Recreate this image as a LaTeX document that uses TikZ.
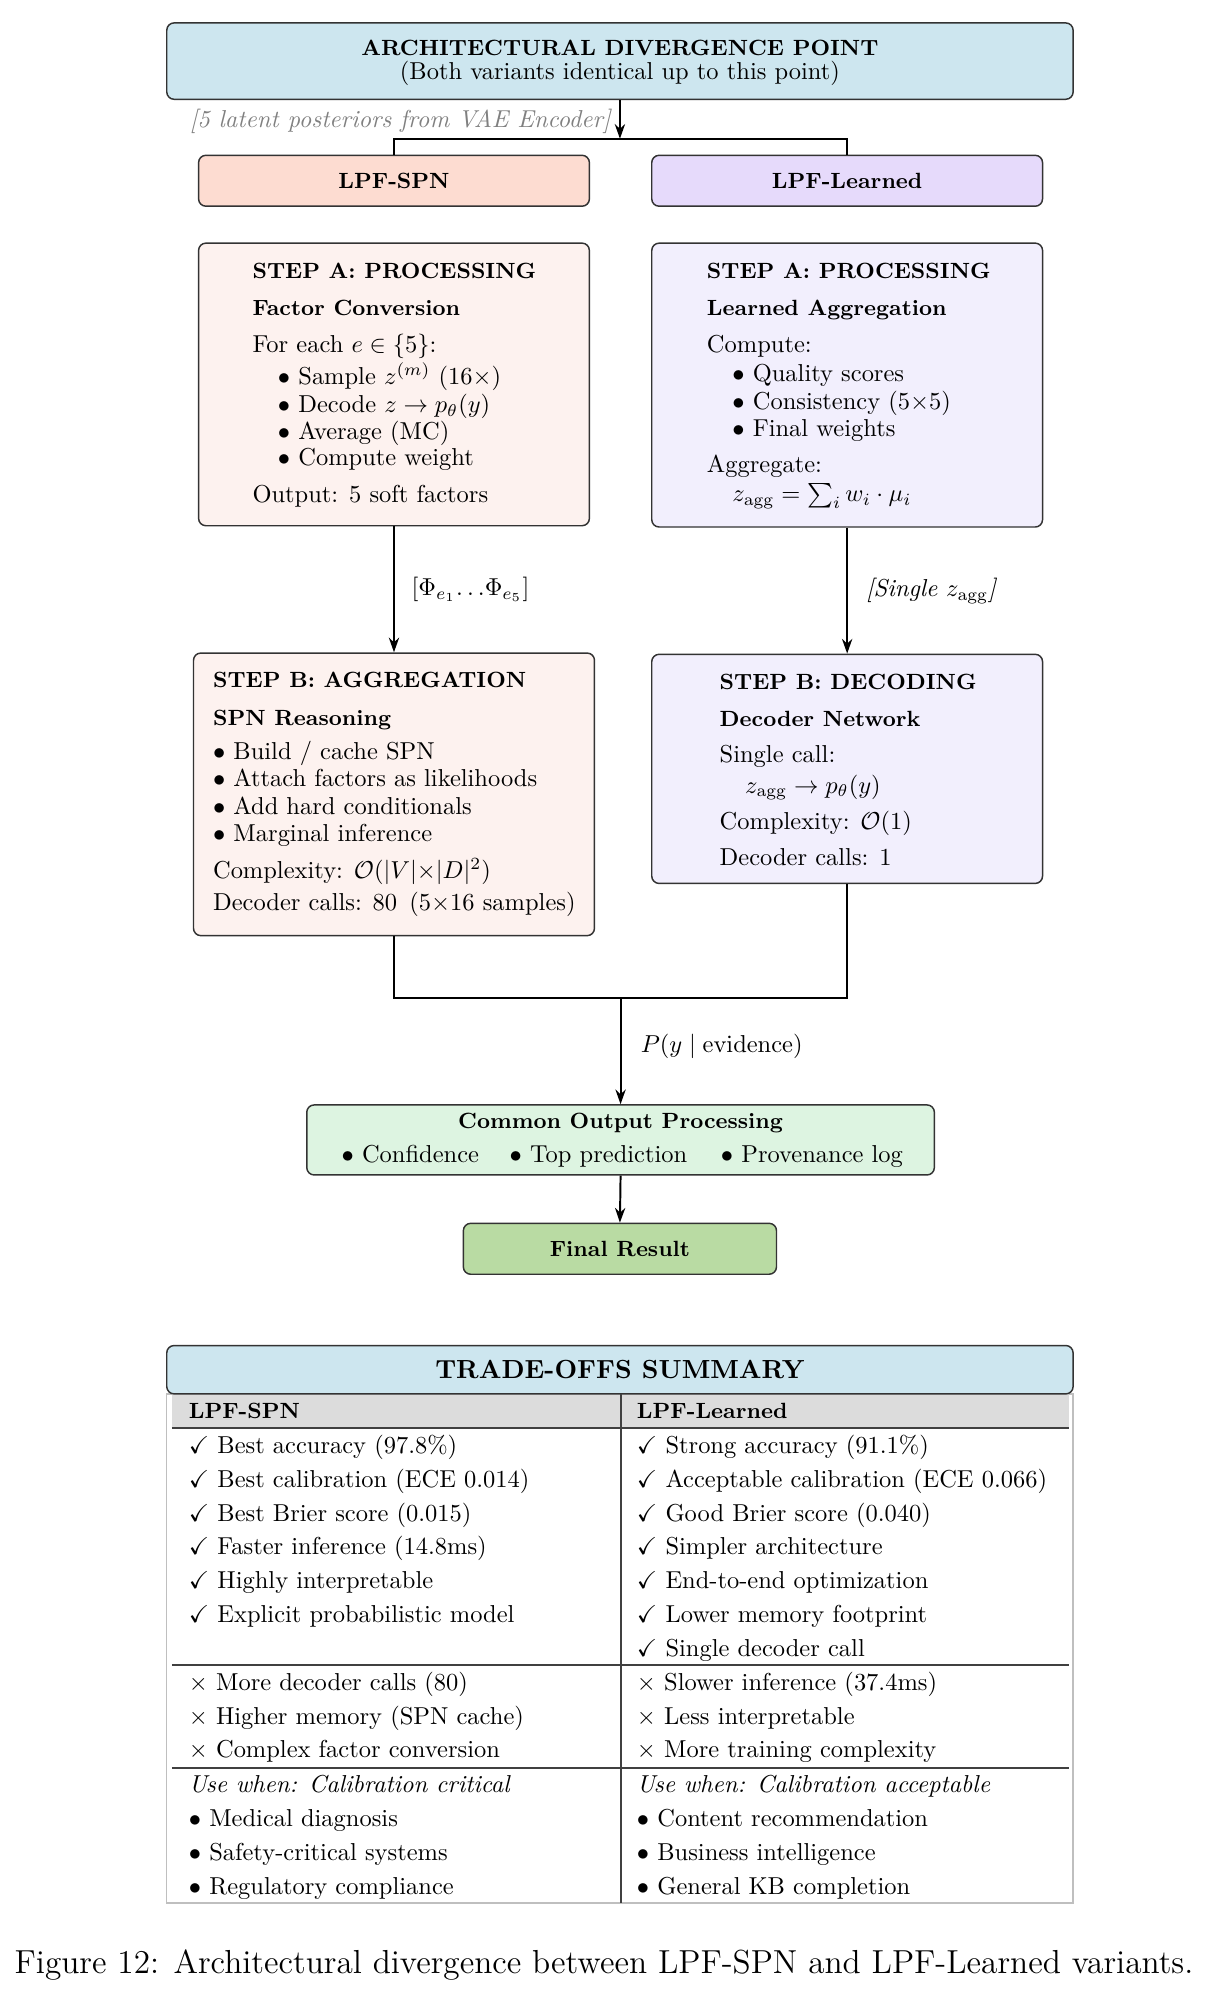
\documentclass[tikz,border=0pt]{standalone}
\usepackage{amssymb}
\usetikzlibrary{arrows.meta}
\definecolor{topblue}{HTML}{CDE6EF}
\definecolor{spnfill}{HTML}{FDDCD1}
\definecolor{lrnfill}{HTML}{E6DAFB}
\definecolor{spnlight}{HTML}{FDF2EF}
\definecolor{lrnlight}{HTML}{F2EFFD}
\definecolor{comfill}{HTML}{DDF4E1}
\definecolor{finfill}{HTML}{B9DBA3}
\definecolor{hdgray}{HTML}{DCDCDC}
\newcommand*\pxu{0.52pt}
\newcommand*\yesmk{$\checkmark$\ }
\newcommand*\nomk{$\times$\ }
\begin{document}
\begin{tikzpicture}[x=0.52pt,y=-0.52pt,
  box/.style={draw=black!80, line width=0.6pt, rounded corners=3pt, inner sep=0pt},
  arr/.style={-{Stealth[length=6pt,width=4.2pt]}, line width=0.8pt},
  ln/.style={line width=0.8pt},
  hd/.style={font=\small\bfseries, inner sep=0pt, anchor=base west, yshift=-0.5pt},
  tx/.style={font=\normalsize, inner sep=0pt, anchor=base west, yshift=-0.5pt},
  rule/.style={draw=black!75, line width=0.7pt}]
\useasboundingbox (0,0) rectangle (949,1568);

% ---------- top ----------
\node[box, fill=topblue, minimum width={712*\pxu}, minimum height={60*\pxu}] (top) at (487,48) {};
\node[font=\small\bfseries, anchor=base, inner sep=0pt] (topt) at (487,43.5) {ARCHITECTURAL DIVERGENCE POINT};
\node[anchor=base, inner sep=0pt] (tops) at (487,62.5) {(Both variants identical up to this point)};
\coordinate (split) at (487,109);
\node[box, fill=spnfill, minimum width={307*\pxu}, minimum height={40*\pxu}, font=\small\bfseries] (spn) at (309.5,142) {LPF-SPN};
\node[box, fill=lrnfill, minimum width={307*\pxu}, minimum height={40*\pxu}, font=\small\bfseries] (lrn) at (665.5,142) {LPF-Learned};
\draw[arr] (top.south) -- (split);
\draw[ln] (spn.north) |- (split) -| (lrn.north);
\node[anchor=base east, inner sep=0pt, text=gray, font=\itshape] (postl) at (480,100.5) {[5 latent posteriors from VAE Encoder]};

% ---------- step A left ----------
\node[box, fill=spnlight, minimum width={307*\pxu}, minimum height={222*\pxu}] (sal) at (309.5,302) {};
\node[hd] (sal1) at (198,218) {STEP A: PROCESSING};
\node[hd] (sal2) at (198,247) {Factor Conversion};
\node[tx] (sal3) at (198,276) {For each $e \in \{5\}$:};
\node[tx] (sal4) at (218,301) {$\bullet$ Sample $z^{(m)}$ (16$\times$)};
\node[tx] (sal5) at (218,323) {$\bullet$ Decode $z \rightarrow p_\theta(y)$};
\node[tx] (sal6) at (218,344) {$\bullet$ Average (MC)};
\node[tx] (sal7) at (218,365) {$\bullet$ Compute weight};
\node[tx] (sal8) at (198,394) {Output: 5 soft factors};

% ---------- step A right ----------
\node[box, fill=lrnlight, minimum width={307*\pxu}, minimum height={223*\pxu}] (sar) at (665.5,302.5) {};
\node[hd] (sar1) at (555,218) {STEP A: PROCESSING};
\node[hd] (sar2) at (555,247) {Learned Aggregation};
\node[tx] (sar3) at (555,276) {Compute:};
\node[tx] (sar4) at (575,299) {$\bullet$ Quality scores};
\node[tx] (sar5) at (575,321) {$\bullet$ Consistency (5$\times$5)};
\node[tx] (sar6) at (575,342) {$\bullet$ Final weights};
\node[tx] (sar7) at (555,370) {Aggregate:};
\node[tx] (sar8) at (575,393) {$z_{\mathrm{agg}} = \sum_i w_i \cdot \mu_i$};

% ---------- step B left ----------
\node[box, fill=spnlight, minimum width={315*\pxu}, minimum height={222*\pxu}] (sbl) at (309.5,624) {};
\node[hd] (sbl1) at (167,539) {STEP B: AGGREGATION};
\node[hd] (sbl2) at (167,569) {SPN Reasoning};
\node[tx] (sbl3) at (167,596) {$\bullet$ Build / cache SPN};
\node[tx] (sbl4) at (167,617) {$\bullet$ Attach factors as likelihoods};
\node[tx] (sbl5) at (167,639) {$\bullet$ Add hard conditionals};
\node[tx] (sbl6) at (167,660) {$\bullet$ Marginal inference};
\node[tx] (sbl7) at (167,689) {Complexity: $\mathcal{O}(|V|{\times}|D|^2)$};
\node[tx] (sbl8) at (167,714) {Decoder calls: 80\enspace(5$\times$16 samples)};

% ---------- step B right ----------
\node[box, fill=lrnlight, minimum width={307*\pxu}, minimum height={180*\pxu}] (sbr) at (665.5,604) {};
\node[hd] (sbr1) at (565,541) {STEP B: DECODING};
\node[hd] (sbr2) at (565,570) {Decoder Network};
\node[tx] (sbr3) at (565,598) {Single call:};
\node[tx] (sbr4) at (585,622) {$z_{\mathrm{agg}} \rightarrow p_\theta(y)$};
\node[tx] (sbr5) at (565,651) {Complexity: $\mathcal{O}(1)$};
\node[tx] (sbr6) at (565,679) {Decoder calls: 1};

% arrows between steps
\draw[arr] (sal.south) -- (sbl.north);
\draw[arr] (sar.south) -- (sbr.north);
\node[tx] (lphi) at (323,467) {[$\Phi_{e_1}{\ldots}\Phi_{e_5}$]};
\node[tx, font=\itshape] (lsgl) at (680,468) {[Single $z_{\mathrm{agg}}$]};

% ---------- merge ----------
\coordinate (join) at (487.5,784);
\node[box, fill=comfill, minimum width={493*\pxu}, minimum height={55*\pxu}] (com) at (487.5,895.5) {};
\draw[ln] (sbl.south) |- (join) -| (sbr.south);
\draw[arr] (join) -- (com.north);
\node[tx] (lpy) at (503,826) {$P(y \mid \mathrm{evidence})$};
\node[font=\small\bfseries, anchor=base, inner sep=0pt] (com1) at (487.5,886.5) {Common Output Processing};
\node[tx] (com2) at (268,912) {$\bullet$ Confidence};
\node[tx] (com3) at (400,912) {$\bullet$ Top prediction};
\node[tx] (com4) at (566,912) {$\bullet$ Provenance log};
\node[box, fill=finfill, minimum width={246*\pxu}, minimum height={40*\pxu}, font=\small\bfseries] (fin) at (487,981) {Final Result};
\draw[arr] (com.south) -- (fin.north);

% ---------- trade-offs table ----------
\draw[black!25, line width=0.6pt] (131,1095) rectangle (843,1495);
\fill[hdgray] (135,1095) rectangle (840,1122);
\node[box, fill=topblue, minimum width={712*\pxu}, minimum height={38*\pxu}, font=\fontsize{10.7}{13}\selectfont\bfseries] (trade) at (487,1076) {TRADE-OFFS SUMMARY};
\draw[rule] (135,1122) -- (840,1122);
\draw[rule] (135,1308) -- (840,1308);
\draw[rule] (135,1389) -- (840,1389);
\draw[rule] (488,1095) -- (488,1495);
\node[hd] (hl) at (148,1113) {LPF-SPN};
\node[hd] (hr) at (500,1113) {LPF-Learned};

\foreach \t [count=\i from 0] in {{Best accuracy (97.8\%)},{Best calibration (ECE 0.014)},{Best Brier score (0.015)},{Faster inference (14.8ms)},{Highly interpretable},{Explicit probabilistic model}}
  \node[tx] (pl\i) at (148,{1141+26.5*\i}) {\yesmk\t};
\foreach \t [count=\i from 0] in {{Strong accuracy (91.1\%)},{Acceptable calibration (ECE 0.066)},{Good Brier score (0.040)},{Simpler architecture},{End-to-end optimization},{Lower memory footprint},{Single decoder call}}
  \node[tx] (pr\i) at (500,{1141+26.5*\i}) {\yesmk\t};
\foreach \t [count=\i from 0] in {{More decoder calls (80)},{Higher memory (SPN cache)},{Complex factor conversion}}
  \node[tx] (cl\i) at (148,{1327+26.5*\i}) {\nomk\t};
\foreach \t [count=\i from 0] in {{Slower inference (37.4ms)},{Less interpretable},{More training complexity}}
  \node[tx] (cr\i) at (500,{1327+26.5*\i}) {\nomk\t};
\node[tx, font=\itshape] (ul) at (148,1407) {Use when: Calibration critical};
\node[tx, font=\itshape] (ur) at (500,1407) {Use when: Calibration acceptable};
\foreach \t [count=\i from 0] in {{Medical diagnosis},{Safety-critical systems},{Regulatory compliance}}
  \node[tx] (bl\i) at (148,{1434+26.6*\i}) {$\bullet$ \t};
\foreach \t [count=\i from 0] in {{Content recommendation},{Business intelligence},{General KB completion}}
  \node[tx] (br\i) at (500,{1434+26.6*\i}) {$\bullet$ \t};

% ---------- caption ----------
\node[anchor=base, inner sep=0pt, font=\fontsize{13.6}{16}\selectfont] (cap) at (474.5,1550) {Figure 12: Architectural divergence between LPF-SPN and LPF-Learned variants.};
\end{tikzpicture}
\end{document}
